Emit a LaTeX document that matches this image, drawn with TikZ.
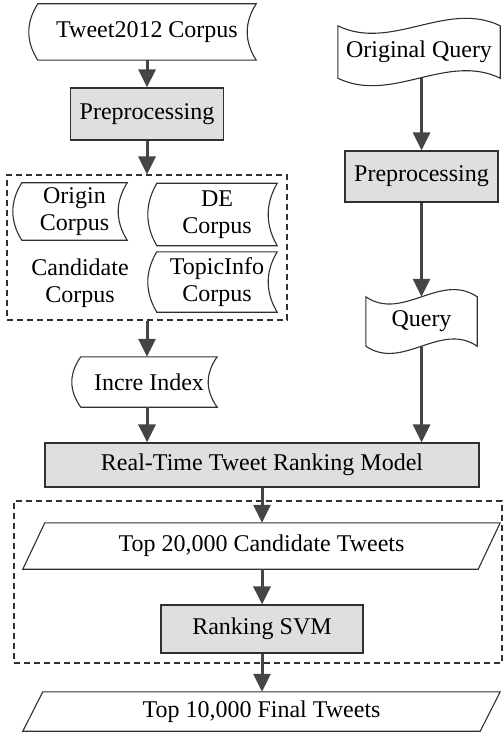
\documentclass[tikz,border=0pt]{standalone}
\usepackage{fontspec}
\setmainfont{Liberation Serif}
\usetikzlibrary{arrows.meta,calc}

\definecolor{arrowgray}{HTML}{454545}
\definecolor{edgegray}{HTML}{303030}

% stored-data outline around a node: curved left and right sides
\newcommand\storedoutline[2]{%
  \draw[outline] (#1.north west) -- (#1.north east)
    .. controls ($(#1.north east)!0.33!(#1.south east)+(-#2,0)$)
            and ($(#1.north east)!0.67!(#1.south east)+(-#2,0)$) .. (#1.south east)
    -- (#1.south west)
    .. controls ($(#1.south west)!0.33!(#1.north west)+(-#2,0)$)
            and ($(#1.south west)!0.67!(#1.north west)+(-#2,0)$) .. (#1.north west)
    -- cycle;}

% punched-tape outline around a node: wavy top and bottom
\newcommand\tapeoutline[2]{%
  \draw[outline] (#1.north west)
    .. controls ($(#1.north west)!0.33!(#1.north east)+(0,#2)$)
            and ($(#1.north west)!0.67!(#1.north east)+(0,-#2)$) .. (#1.north east)
    -- (#1.south east)
    .. controls ($(#1.south east)!0.33!(#1.south west)+(0,-#2)$)
            and ($(#1.south east)!0.67!(#1.south west)+(0,#2)$) .. (#1.south west)
    -- cycle;}

% slanted data outline around a node
\newcommand\dataoutline[2]{%
  \draw[outline] ($(#1.north west)+(#2,0)$) -- ($(#1.north east)+(#2,0)$)
    -- ($(#1.south east)+(-#2,0)$) -- ($(#1.south west)+(-#2,0)$) -- cycle;}

\begin{document}
\begin{tikzpicture}[x=1pt,y=-1pt,
  every node/.style={font=\fontsize{24}{27}\selectfont, inner sep=0pt, align=center},
  outline/.style={draw=edgegray, line width=1.1pt},
  procbox/.style={draw=edgegray, fill=gray!25, line width=1.2pt},
  groupbox/.style={draw=edgegray, dash pattern=on 6pt off 4pt, line width=1.1pt},
  flow/.style={draw=arrowgray, line width=3pt, -{Triangle[length=18pt,width=17pt]}}]

\useasboundingbox (0,0) rectangle (503,735);

% left column
\node[minimum width=218pt, minimum height=56pt] (tweet) at (147,32) {Tweet2012 Corpus};
\node[procbox, minimum width=153pt, minimum height=52pt] (prepA) at (147,114) {Preprocessing};
\node[groupbox, minimum width=280pt, minimum height=145pt] (groupA) at (147,247.5) {};
\node[minimum width=105pt, minimum height=57pt] (origin) at (74.5,211.5) {Origin\\Corpus};
\node[minimum width=120pt, minimum height=62pt] (de) at (217,214.5) {DE\\Corpus};
\node[minimum width=120pt, minimum height=60pt] (topic) at (217,282) {TopicInfo\\Corpus};
\node (cand) at (80,283) {Candidate\\Corpus};
\node[minimum width=136pt, minimum height=50pt] (incre) at (149,382) {Incre Index};

% right column
\node[minimum width=162pt, minimum height=52pt] (oq) at (419,52) {Original Query};
\node[procbox, minimum width=153pt, minimum height=51pt] (prepB) at (421.5,176.5) {Preprocessing};
\node[minimum width=111pt, minimum height=49pt] (query) at (421.5,321.5) {Query};

% ranking stage
\node[procbox, minimum width=434pt, minimum height=44pt] (rt) at (262,465) {Real-Time Tweet Ranking Model};
\node[groupbox, minimum width=488pt, minimum height=162pt] (groupB) at (258,582) {};
\node[minimum width=455pt, minimum height=46pt] (top20) at (261.5,546) {Top 20,000 Candidate Tweets};
\node[procbox, minimum width=202pt, minimum height=48pt] (svm) at (262,629) {Ranking SVM};
\node[minimum width=457pt, minimum height=39pt] (top10) at (261.5,711.5) {Top 10,000 Final Tweets};

% outlines
\storedoutline{tweet}{12}
\storedoutline{origin}{12}
\storedoutline{de}{12}
\storedoutline{topic}{12}
\storedoutline{incre}{12}
\tapeoutline{oq}{26}
\tapeoutline{query}{25}
\dataoutline{top20}{11}
\dataoutline{top10}{10}

% connectors
\draw[flow] (tweet.south) -- (prepA.north);
\draw[flow] (prepA.south) -- (groupA.north);
\draw[flow] (groupA.south) -- (groupA.south |- incre.north);
\draw[flow] (groupA.south |- incre.south) -- (groupA.south |- rt.north);
\draw[flow] (prepB.north |- oq.south) -- (prepB.north);
\draw[flow] (prepB.south) -- (prepB.south |- query.north);
\draw[flow] (prepB.south |- query.south) -- (prepB.south |- rt.north);
\draw[flow] (rt.south) -- (rt.south |- top20.north);
\draw[flow] (rt.south |- top20.south) -- (rt.south |- svm.north);
\draw[flow] (svm.south) -- (svm.south |- top10.north);
\end{tikzpicture}
\end{document}
